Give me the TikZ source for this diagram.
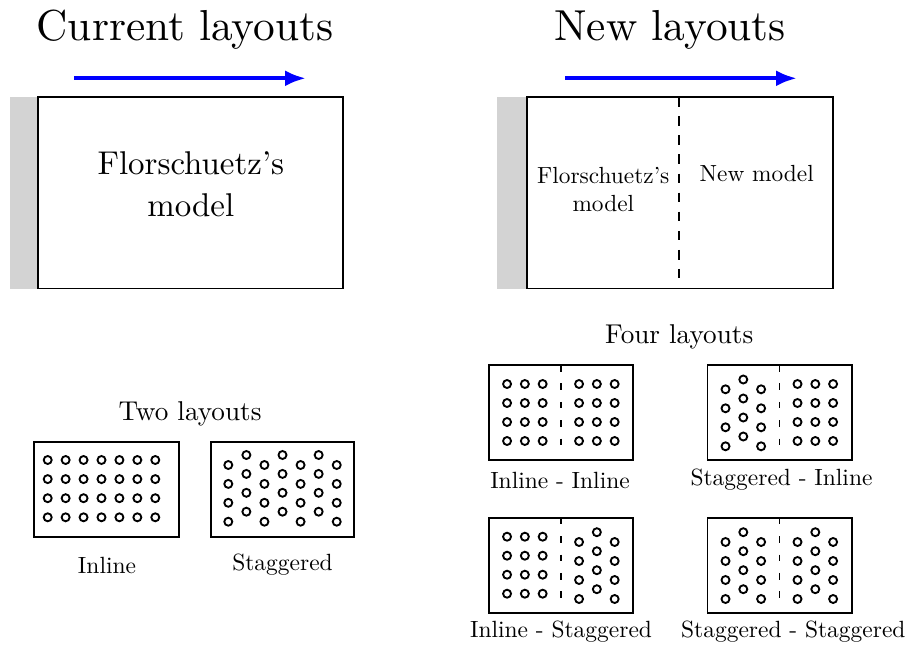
\documentclass[tikz,border=0pt]{standalone}
\usepackage{fontspec}
\setmainfont{lmroman10-regular.otf}
\usetikzlibrary{arrows.meta}
\definecolor{stripgray}{RGB}{211,211,211}
\definecolor{flowblue}{RGB}{0,0,255}
\newcommand{\holesIn}[2]{%
  \foreach \i in {-1,0,1}{\foreach \j in {0,...,3}{\draw[hole] ({#1+17.8*\i},{#2+19+19*\j}) circle[radius=3pt];}}}
\newcommand{\holesSt}[2]{%
  \foreach \i in {-1,1}{\foreach \j in {0,...,3}{\draw[hole] ({#1+17.8*\i},{#2+24.3+19*\j}) circle[radius=3pt];}}
  \foreach \j in {0,...,3}{\draw[hole] (#1,{#2+14.5+19*\j}) circle[radius=3pt];}}
\begin{document}
\begin{tikzpicture}[x=0.75pt,y=-0.75pt,
  box/.style={draw=black,line width=1.35pt},
  strip/.style={fill=stripgray},
  hole/.style={draw=black,line width=1.4pt},
  flow/.style={draw=flowblue,line width=3pt,-{Latex[length=15.75pt,width=12pt]}},
  bigdash/.style={draw=black,line width=1.3pt,dash pattern=on 7.3pt off 7pt},
  smalldash/.style={draw=black,line width=1.3pt,dash pattern=on 5pt off 8.8pt},
  titletext/.style={anchor=base,inner sep=0pt,font=\fontsize{32.5}{39}\selectfont},
  bigtext/.style={anchor=base,inner sep=0pt,font=\fontsize{24.7}{30}\selectfont},
  midtext/.style={anchor=base,inner sep=0pt,font=\fontsize{17.5}{21}\selectfont},
  subtitle/.style={anchor=base,inner sep=0pt,font=\fontsize{20.4}{24}\selectfont},
  label/.style={anchor=base,inner sep=0pt,font=\fontsize{17.6}{21}\selectfont}]
\useasboundingbox (0,0) rectangle (909,648);

% ---- Current layouts ----
\node[titletext] (t1) at (185,40.5) {Current layouts};
\coordinate (a1s) at (74,78.3);
\coordinate (a1e) at (306,78.3);
\draw[flow] (a1s) -- (a1e);
\fill[strip] (10,97) rectangle (38.3,289);
\draw[box] (38.3,97.3) rectangle (343.3,288.5);
\node[bigtext] (f1a) at (190.8,175) {Florschuetz's};
\node[bigtext] (f1b) at (190.8,216.7) {model};

% ---- New layouts ----
\node[titletext] (t2) at (670,40.5) {New layouts};
\coordinate (a2s) at (565,78.3);
\coordinate (a2e) at (797,78.3);
\draw[flow] (a2s) -- (a2e);
\fill[strip] (497.3,97) rectangle (527.3,289);
\draw[box] (527.3,97.3) rectangle (832.7,288.5);
\draw[bigdash] (679,97.3) -- (679,278.3);
\node[midtext] (f2a) at (603.3,183.3) {Florschuetz's};
\node[midtext] (f2b) at (603.3,211.7) {model};
\node[midtext] (nm) at (756.7,181.7) {New model};

% ---- Two layouts ----
\node[subtitle] (two) at (190,420) {Two layouts};
\draw[box] (34.3,441.7) rectangle (179,537.3);
\foreach \i in {0,...,6}{\foreach \j in {0,...,3}{\draw[hole] ({47.7+17.93*\i},{460+19.1*\j}) circle[radius=3pt];}}
\draw[box] (210.7,441.7) rectangle (354,537.3);
\foreach \i in {0,2,4,6}{\foreach \j in {0,...,3}{\draw[hole] ({228.3+18.07*\i},{465+18.9*\j}) circle[radius=3pt];}}
\foreach \i in {1,3,5}{\foreach \j in {0,...,3}{\draw[hole] ({228.3+18.07*\i},{455+18.9*\j}) circle[radius=3pt];}}
\node[label] (l1) at (107,573.3) {Inline};
\node[label] (l2) at (282.5,570) {Staggered};

% ---- Four layouts ----
\node[subtitle] (four) at (679.2,343.3) {Four layouts};
% box 1: Inline - Inline
\draw[box] (489,365) rectangle (633.3,460);
\draw[smalldash] (561.15,365) -- (561.15,453);
\holesIn{524.85}{365}
\holesIn{596.85}{365}
\node[label] (l3) at (560,488) {Inline - Inline};
% box 2: Staggered - Inline
\draw[box] (707.5,365) rectangle (851.7,460);
\draw[smalldash] (779.6,365) -- (779.6,453);
\holesSt{743.3}{365}
\holesIn{815.3}{365}
\node[label] (l4) at (781.5,485.5) {Staggered - Inline};
% box 3: Inline - Staggered
\draw[box] (489,517.7) rectangle (633.3,612.7);
\draw[smalldash] (561.15,517.7) -- (561.15,605.7);
\holesIn{524.85}{517.7}
\holesSt{596.85}{517.7}
\node[label] (l5) at (561,637) {Inline - Staggered};
% box 4: Staggered - Staggered
\draw[box] (707.5,517.7) rectangle (851.7,612.7);
\draw[smalldash] (779.6,517.7) -- (779.6,605.7);
\holesSt{743.3}{517.7}
\holesSt{815.3}{517.7}
\node[label] (l6) at (793.3,637.5) {Staggered - Staggered};
\end{tikzpicture}
\end{document}
